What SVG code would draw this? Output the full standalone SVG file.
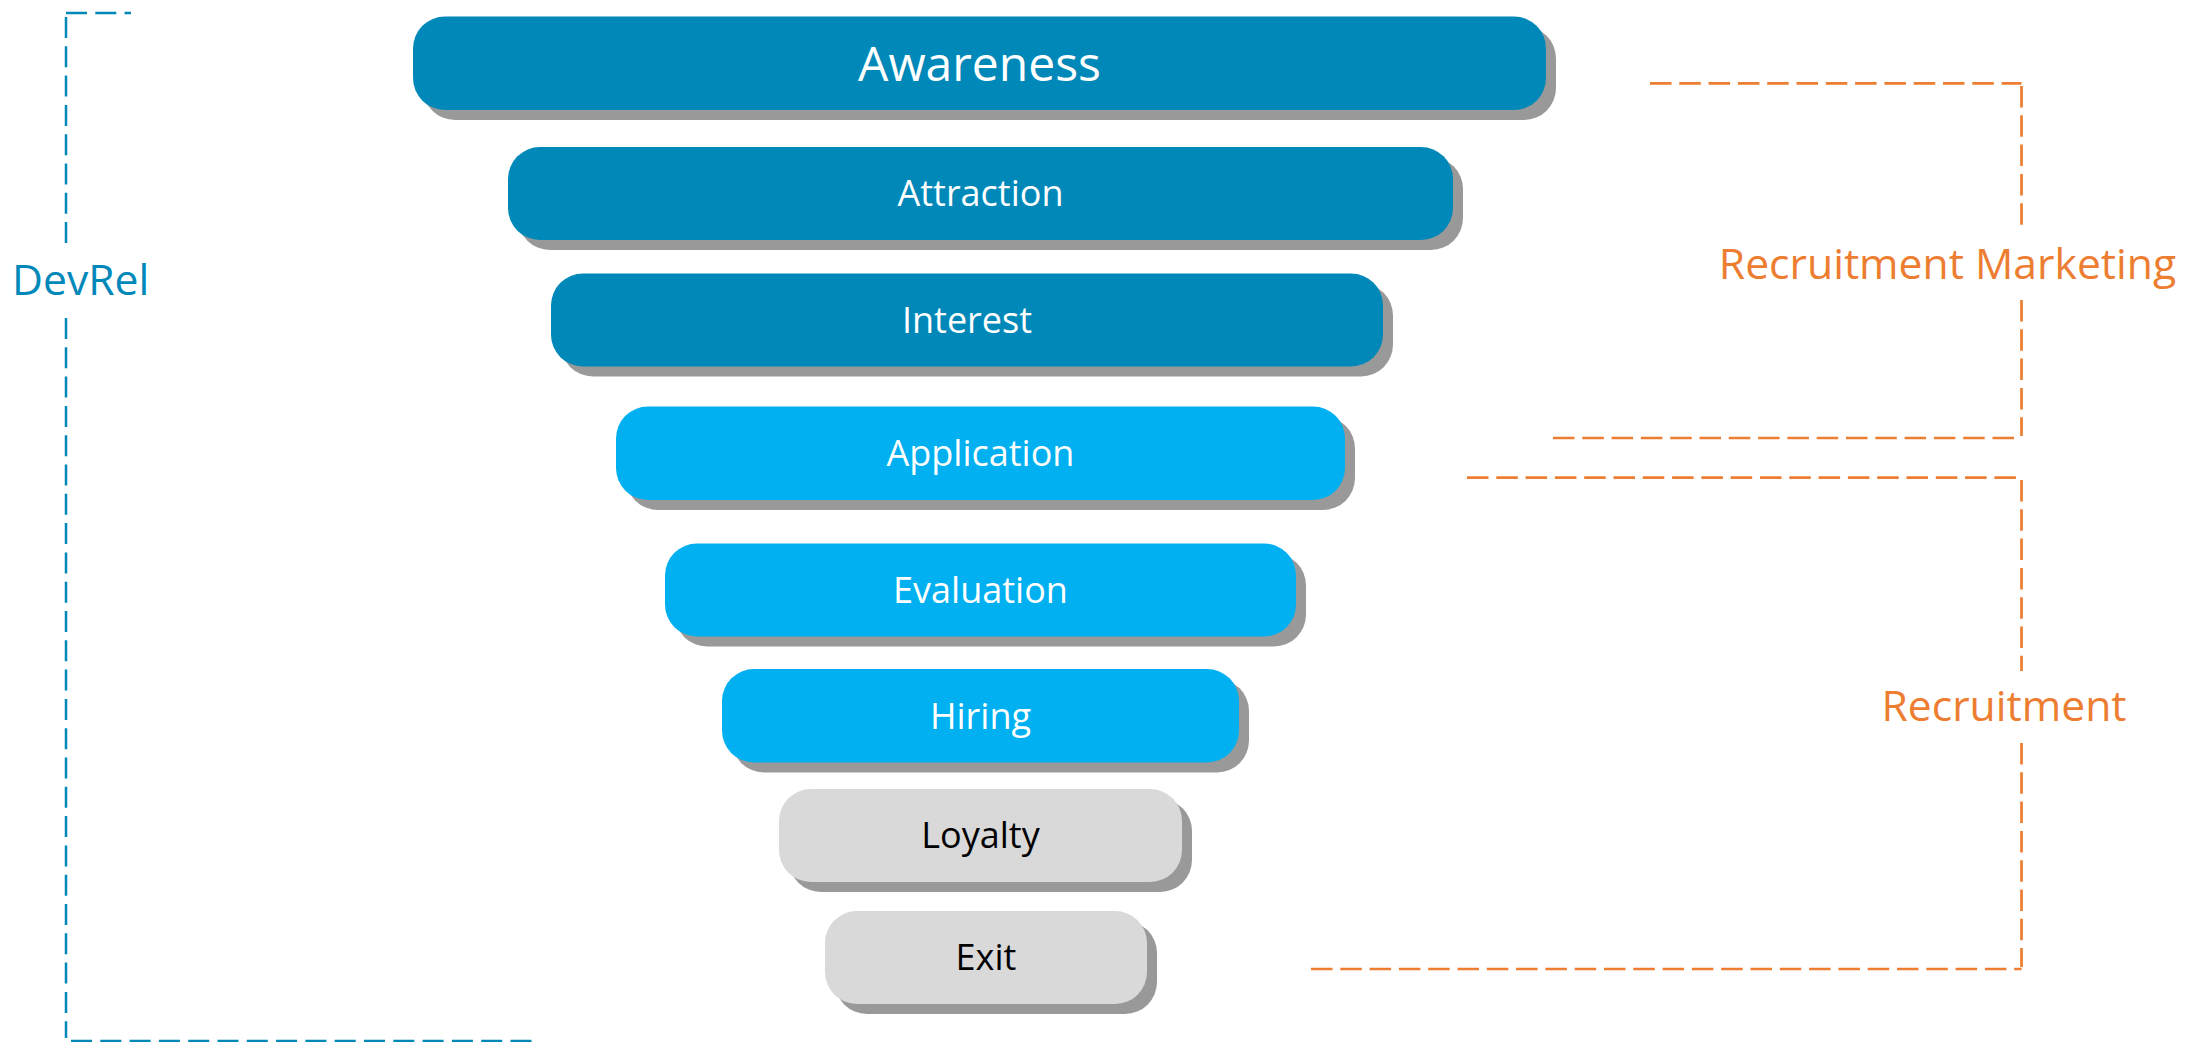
<svg xmlns="http://www.w3.org/2000/svg" width="2203" height="1042" viewBox="0 0 2203 1042">
<style>
.sh{fill:#999999}
.dk{fill:#0088B9}
.lt{fill:#00B0F0}
.gr{fill:#D9D9D9}
.t{font-family:"Open Sans","Noto Sans",sans-serif;font-size:36px;text-anchor:middle}
.w{fill:#FFFFFF}
.b{fill:#000000}
.lbl{font-family:"Open Sans","Noto Sans",sans-serif;font-size:42.67px}
.bl{fill:none;stroke:#0088B9;stroke-width:2.5;stroke-dasharray:21 8.3}
.or{fill:none;stroke:#ED7D31;stroke-width:2.7;stroke-dasharray:21.5 7.8}
</style>
<rect width="2203" height="1042" fill="#FFFFFF"/>
<g id="connectors">
<path class="bl" d="M66,13 H131"/>
<path class="bl" d="M66,17 V245"/>
<path class="bl" d="M66,318 V1038"/>
<path class="bl" d="M71,1041 H532"/>
<path class="or" d="M1650,83.3 H2021.5"/>
<path class="or" d="M2021.5,86 V228"/>
<path class="or" d="M2021.5,300 V436"/>
<path class="or" d="M1553,438 H2021.5"/>
<path class="or" d="M1467,477.7 H2021.5"/>
<path class="or" d="M2021.5,480 V671"/>
<path class="or" d="M2021.5,743 V967"/>
<path class="or" d="M1311,969 H2021.5"/>
</g>
<g id="label-devrel"><text class="lbl" x="12" y="295" fill="#0088B9">DevRel</text></g>
<g id="label-recruitment-marketing"><text class="lbl" x="1947.5" y="279" fill="#ED7D31" text-anchor="middle">Recruitment Marketing</text></g>
<g id="label-recruitment"><text class="lbl" x="2004" y="721" fill="#ED7D31" text-anchor="middle">Recruitment</text></g>
<g id="awareness">
<rect class="sh" x="423" y="26.5" width="1133" height="93.5" rx="32"/>
<rect class="dk" x="413" y="16.5" width="1133" height="93.5" rx="32"/>
<text class="t w" x="979.5" y="80.5" style="font-size:48px">Awareness</text>
</g>
<g id="attraction">
<rect class="sh" x="518" y="157" width="945" height="93" rx="32"/>
<rect class="dk" x="508" y="147" width="945" height="93" rx="32"/>
<text class="t w" x="980.5" y="206">Attraction</text>
</g>
<g id="interest">
<rect class="sh" x="561" y="283.5" width="832" height="93" rx="32"/>
<rect class="dk" x="551" y="273.5" width="832" height="93" rx="32"/>
<text class="t w" x="967" y="332.8">Interest</text>
</g>
<g id="application">
<rect class="sh" x="626" y="416.5" width="729" height="93.5" rx="32"/>
<rect class="lt" x="616" y="406.5" width="729" height="93.5" rx="32"/>
<text class="t w" x="980.5" y="466">Application</text>
</g>
<g id="evaluation">
<rect class="sh" x="675" y="553.5" width="631" height="93" rx="32"/>
<rect class="lt" x="665" y="543.5" width="631" height="93" rx="32"/>
<text class="t w" x="980.5" y="602.8">Evaluation</text>
</g>
<g id="hiring">
<rect class="sh" x="732" y="679" width="517" height="93.5" rx="32"/>
<rect class="lt" x="722" y="669" width="517" height="93.5" rx="32"/>
<text class="t w" x="980.5" y="728.5">Hiring</text>
</g>
<g id="loyalty">
<rect class="sh" x="789" y="799" width="403" height="93" rx="32"/>
<rect class="gr" x="779" y="789" width="403" height="93" rx="32"/>
<text class="t b" x="980.5" y="848">Loyalty</text>
</g>
<g id="exit">
<rect class="sh" x="835" y="921" width="322" height="93" rx="32"/>
<rect class="gr" x="825" y="911" width="322" height="93" rx="32"/>
<text class="t b" x="986" y="970">Exit</text>
</g>
</svg>
